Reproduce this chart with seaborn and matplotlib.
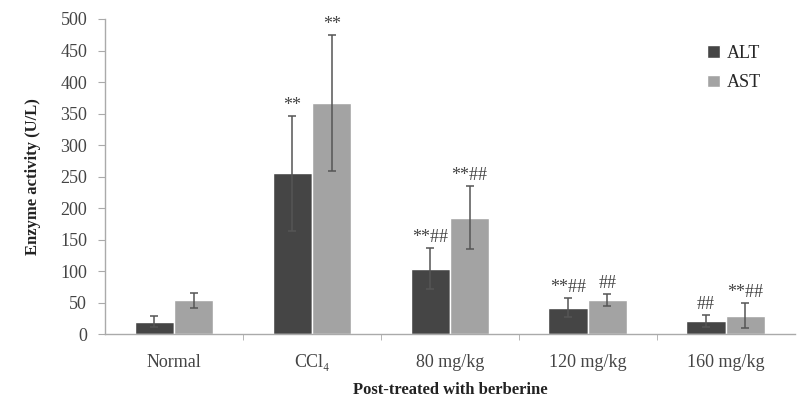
import numpy as np
import pandas as pd
import matplotlib
matplotlib.use("Agg")
import matplotlib.pyplot as plt
import seaborn as sns

# ==========================================
# DATA
# ==========================================

groups = ["Normal", "CCl\u2084", "80 mg/kg", "120 mg/kg", "160 mg/kg"]

alt_mean = [20, 255, 104, 42, 21]
alt_sd = [8, 91, 33, 15, 9]
alt_sig = ["", "**", "**##", "**##", "##"]

ast_mean = [54, 367, 185, 54, 29]
ast_sd = [12, 108, 50, 10, 20]
ast_sig = ["", "**", "**##", "##", "**##"]

enzymes = ["ALT", "AST"]

df = pd.DataFrame({
    "group": groups * 2,
    "enzyme": ["ALT"] * len(groups) + ["AST"] * len(groups),
    "value": alt_mean + ast_mean,
})

# ==========================================
# PLOT
# ==========================================

sns.set_style("white")
plt.rcParams["font.family"] = ["Liberation Serif", "DejaVu Serif"]

fig = plt.figure(figsize=(7.97, 4.04), dpi=100)
ax = fig.add_axes([0.132, 0.173, 0.865, 0.78])

sns.barplot(
    data=df,
    x="group",
    y="value",
    hue="enzyme",
    hue_order=enzymes,
    order=groups,
    palette={"ALT": "#454545", "AST": "#a3a3a3"},
    width=0.57,
    errorbar=None,
    ax=ax,
)

# error bars + significance marks
sds = {"ALT": alt_sd, "AST": ast_sd}
sigs = {"ALT": alt_sig, "AST": ast_sig}

for container, enz in zip(ax.containers, enzymes):
    for i, bar in enumerate(container):
        cx = bar.get_x() + bar.get_width() / 2
        h = bar.get_height()
        sd = sds[enz][i]
        ax.errorbar(
            cx, h, yerr=sd,
            fmt="none", ecolor="#555555",
            elinewidth=1.1, capsize=3, capthick=1.1,
        )
        if sigs[enz][i]:
            ax.text(
                cx, h + sd + 17, sigs[enz][i],
                ha="center", va="center",
                fontsize=13, color="#444444",
            )

ax.set_ylim(0, 500)
ax.set_xlim(-0.5, 4.5)
ax.set_yticks(np.arange(0, 501, 50))

ax.set_ylabel(
    "Enzyme activity (U/L)",
    fontsize=12, fontweight="bold", color="#222222",
    labelpad=14,
)
ax.set_xlabel(
    "Post-treated with berberine",
    fontsize=12, fontweight="bold", color="#222222",
    labelpad=8,
)

ax.tick_params(axis="y", labelsize=13, direction="out",
               length=5, width=0.8, left=True, pad=8, color="#aaaaaa")
for lbl in ax.get_yticklabels():
    lbl.set_color("#444444")
ax.tick_params(axis="x", labelsize=13, length=0, pad=14)
for lbl in ax.get_xticklabels():
    lbl.set_color("#444444")

ax.set_xticks(np.arange(0.5, 4.5, 1), minor=True)
ax.tick_params(axis="x", which="minor", length=4, color="#aaaaaa",
               direction="out", bottom=True)

sns.despine(ax=ax)
for side in ["left", "bottom"]:
    ax.spines[side].set_color("#aaaaaa")
    ax.spines[side].set_linewidth(1.0)

ax.legend(
    loc="upper right",
    bbox_to_anchor=(0.975, 0.97),
    frameon=False,
    fontsize=13,
    handlelength=0.7,
    handleheight=0.7,
    handletextpad=0.4,
    labelspacing=0.7,
    title=None,
)

fig.savefig("out.png", dpi=100)
